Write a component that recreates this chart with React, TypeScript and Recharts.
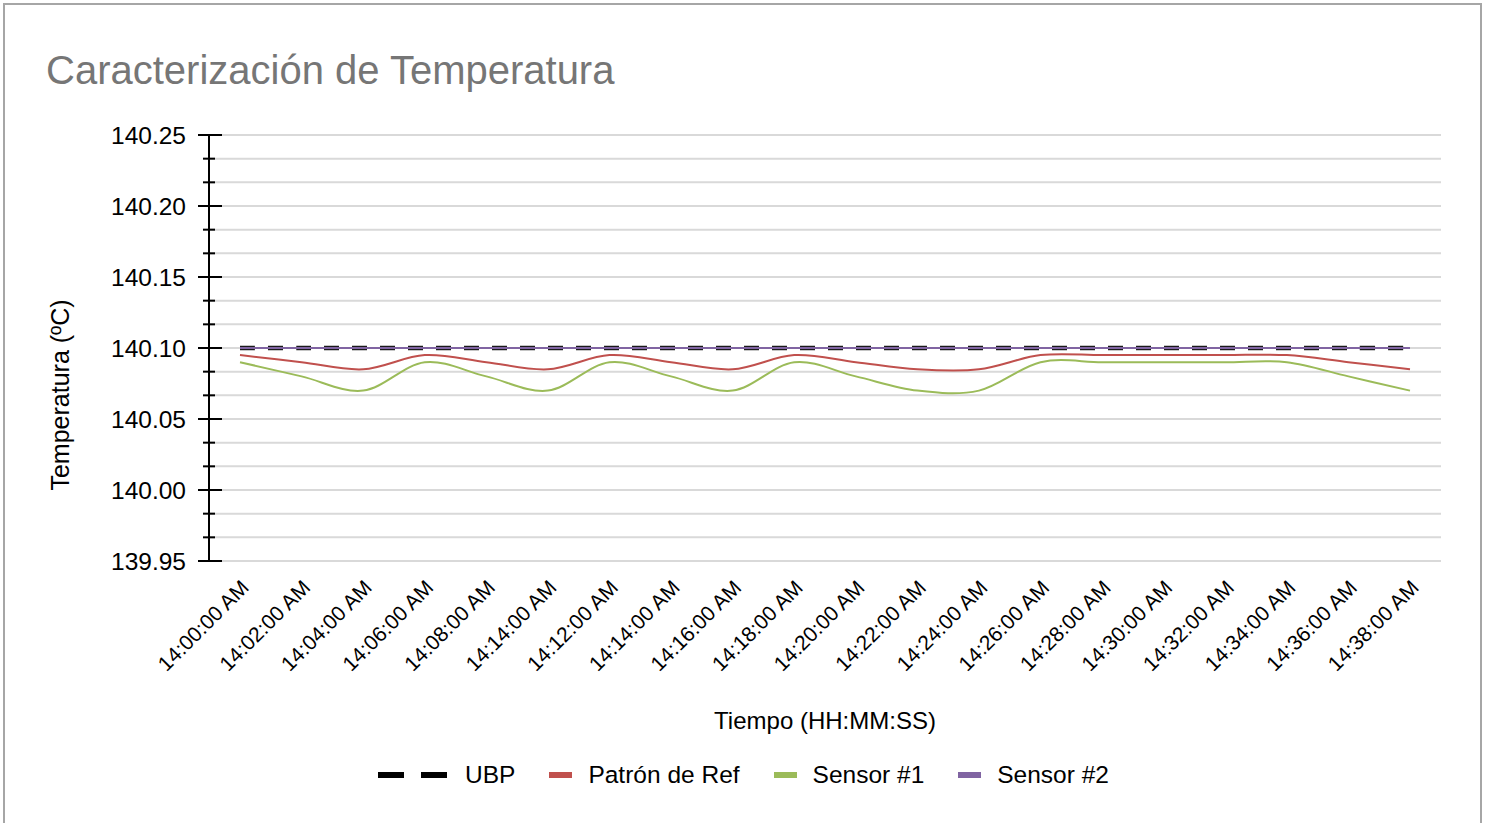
import React from "react";
import { LineChart, Line, XAxis, YAxis, CartesianGrid } from "recharts";

const timeLabels = [
  "14:00:00 AM", "14:02:00 AM", "14:04:00 AM", "14:06:00 AM", "14:08:00 AM",
  "14:14:00 AM", "14:12:00 AM", "14:14:00 AM", "14:16:00 AM", "14:18:00 AM",
  "14:20:00 AM", "14:22:00 AM", "14:24:00 AM", "14:26:00 AM", "14:28:00 AM",
  "14:30:00 AM", "14:32:00 AM", "14:34:00 AM", "14:36:00 AM", "14:38:00 AM",
];

const ubp = [
  140.1, 140.1, 140.1, 140.1, 140.1, 140.1, 140.1, 140.1, 140.1, 140.1,
  140.1, 140.1, 140.1, 140.1, 140.1, 140.1, 140.1, 140.1, 140.1, 140.1,
];
const patronRef = [
  140.095, 140.09, 140.085, 140.095, 140.09, 140.085, 140.095, 140.09, 140.085, 140.095,
  140.09, 140.085, 140.085, 140.095, 140.095, 140.095, 140.095, 140.095, 140.09, 140.085,
];
const sensor1 = [
  140.09, 140.08, 140.07, 140.09, 140.08, 140.07, 140.09, 140.08, 140.07, 140.09,
  140.08, 140.07, 140.07, 140.09, 140.09, 140.09, 140.09, 140.09, 140.08, 140.07,
];
const sensor2 = [
  140.1, 140.1, 140.1, 140.1, 140.1, 140.1, 140.1, 140.1, 140.1, 140.1,
  140.1, 140.1, 140.1, 140.1, 140.1, 140.1, 140.1, 140.1, 140.1, 140.1,
];

const yMajorTicks = [139.95, 140.0, 140.05, 140.1, 140.15, 140.2, 140.25];
const yMinorPerMajor = 3;

const yTicks: number[] = [];
yMajorTicks.forEach((v, i) => {
  yTicks.push(v);
  if (i < yMajorTicks.length - 1) {
    const step = (yMajorTicks[i + 1] - v) / yMinorPerMajor;
    for (let k = 1; k < yMinorPerMajor; k++) yTicks.push(v + step * k);
  }
});

const data = timeLabels.map((t, i) => ({
  idx: i,
  ubp: ubp[i],
  ref: patronRef[i],
  s1: sensor1[i],
  s2: sensor2[i],
}));

const FONT = "'Liberation Sans', Arial, sans-serif";

// Excel-like smoothed line (Catmull-Rom through the points)
const smoothCurve = (context: any) => {
  let pts: number[][] = [];
  return {
    areaStart() {},
    areaEnd() {},
    lineStart() {
      pts = [];
    },
    point(x: number, y: number) {
      pts.push([+x, +y]);
    },
    lineEnd() {
      if (!pts.length) return;
      context.moveTo(pts[0][0], pts[0][1]);
      for (let i = 0; i < pts.length - 1; i++) {
        const p0 = pts[i - 1] || pts[i];
        const p1 = pts[i];
        const p2 = pts[i + 1];
        const p3 = pts[i + 2] || pts[i + 1];
        const c1x = p1[0] + (p2[0] - p0[0]) / 6;
        const c1y = p1[1] + (p2[1] - p0[1]) / 6;
        const c2x = p2[0] - (p3[0] - p1[0]) / 6;
        const c2y = p2[1] - (p3[1] - p1[1]) / 6;
        context.bezierCurveTo(c1x, c1y, c2x, c2y, p2[0], p2[1]);
      }
    },
  };
};

const YTick = (props: any) => {
  const { x, y, payload, index } = props;
  const major = index % yMinorPerMajor === 0;
  return (
    <g>
      {major ? (
        <line x1={x - 11} x2={x + 13} y1={y} y2={y} stroke="#000" strokeWidth={2} />
      ) : (
        <line x1={x - 6} x2={x + 6} y1={y} y2={y} stroke="#000" strokeWidth={2} />
      )}
      {major && (
        <text x={x - 23} y={y} dy="0.36em" textAnchor="end" fontSize={24.5} fill="#000" fontFamily={FONT}>
          {Number(payload.value).toFixed(2)}
        </text>
      )}
    </g>
  );
};

const XTick = (props: any) => {
  const { x, y, payload } = props;
  const ax = x + 10;
  const ay = y + 28;
  return (
    <text
      x={ax}
      y={ay}
      textAnchor="end"
      fontSize={21}
      fill="#000"
      fontFamily={FONT}
      transform={`rotate(-45, ${ax}, ${ay})`}
    >
      {timeLabels[payload.value]}
    </text>
  );
};

const legendItems = [
  { name: "UBP", color: "#000", dashed: true },
  { name: "Patrón de Ref", color: "#c0504d" },
  { name: "Sensor #1", color: "#9bbb59" },
  { name: "Sensor #2", color: "#8064a2" },
];

export default function App() {
  return (
    <div style={{ position: "absolute", left: 0, top: 0, width: 1486, height: 823, background: "#fff", overflow: "hidden" }}>
      <div
        style={{
          position: "absolute",
          left: 3,
          top: 3,
          width: 1475,
          height: 900,
          border: "2px solid #a6a6a6",
        }}
      />
      <div
        style={{
          position: "absolute",
          left: 46,
          top: 50,
          fontSize: 40,
          lineHeight: "40px",
          color: "#767676",
          fontFamily: FONT,
          whiteSpace: "nowrap",
        }}
      >
        Caracterización de Temperatura
      </div>
      <div style={{ position: "absolute", left: 0, top: 0 }}>
        <LineChart
          width={1486}
          height={823}
          data={data}
          margin={{ top: 135, right: 45, left: 109, bottom: 202 }}
        >
          <CartesianGrid horizontal vertical={false} stroke="#d9d9d9" strokeWidth={2} />
          <XAxis
            dataKey="idx"
            type="category"
            height={60}
            padding={{ left: 31, right: 31 }}
            axisLine={false}
            tickLine={false}
            tickSize={0}
            tickMargin={0}
            interval={0}
            tick={<XTick />}
            label={{
              content: (p: any) => {
                const vb = p.viewBox || {};
                return (
                  <text
                    x={vb.x + vb.width / 2}
                    y={vb.y + 159}
                    textAnchor="middle"
                    dominantBaseline="central"
                    fontSize={24}
                    fill="#000"
                    fontFamily={FONT}
                  >
                    Tiempo (HH:MM:SS)
                  </text>
                );
              },
            }}
          />
          <YAxis
            type="number"
            domain={[139.95, 140.25]}
            ticks={yTicks}
            width={100}
            interval={0}
            axisLine={{ stroke: "#000", strokeWidth: 2 }}
            tickLine={false}
            tickSize={0}
            tickMargin={0}
            tick={<YTick />}
            allowDataOverflow
            label={{
              content: (p: any) => {
                const vb = p.viewBox || {};
                const cx = 60;
                const cy = vb.y + vb.height / 2 + 47;
                return (
                  <text
                    x={cx}
                    y={cy}
                    textAnchor="middle"
                    dominantBaseline="central"
                    fontSize={25}
                    fill="#000"
                    fontFamily={FONT}
                    transform={`rotate(-90, ${cx}, ${cy})`}
                  >
                    Temperatura (ºC)
                  </text>
                );
              },
            }}
          />
          <Line
            dataKey="ubp"
            name="UBP"
            stroke="#1a1a1a"
            strokeWidth={4.5}
            strokeDasharray="15 13"
            dot={false}
            type={smoothCurve as any}
            isAnimationActive={false}
          />
          <Line dataKey="ref" name="Patrón de Ref" stroke="#c0504d" strokeWidth={2} dot={false} type={smoothCurve as any} isAnimationActive={false} />
          <Line dataKey="s1" name="Sensor #1" stroke="#9bbb59" strokeWidth={2} dot={false} type={smoothCurve as any} isAnimationActive={false} />
          <Line dataKey="s2" name="Sensor #2" stroke="#8064a2" strokeWidth={2} dot={false} type={smoothCurve as any} isAnimationActive={false} />
        </LineChart>
      </div>
      <div
        style={{
          position: "absolute",
          left: 378,
          top: 760,
          height: 30,
          display: "flex",
          alignItems: "center",
          fontFamily: FONT,
          fontSize: 24.5,
          color: "#000",
          whiteSpace: "nowrap",
        }}
      >
        {legendItems.map((it) => (
          <div key={it.name} style={{ display: "flex", alignItems: "center", marginRight: 34 }}>
            {it.dashed ? (
              <div style={{ display: "flex", alignItems: "center", marginRight: 18 }}>
                <div style={{ width: 26, height: 6, background: it.color, marginRight: 17 }} />
                <div style={{ width: 26, height: 6, background: it.color }} />
              </div>
            ) : (
              <div style={{ width: 23, height: 6, background: it.color, marginRight: 16 }} />
            )}
            <span>{it.name}</span>
          </div>
        ))}
      </div>
    </div>
  );
}
